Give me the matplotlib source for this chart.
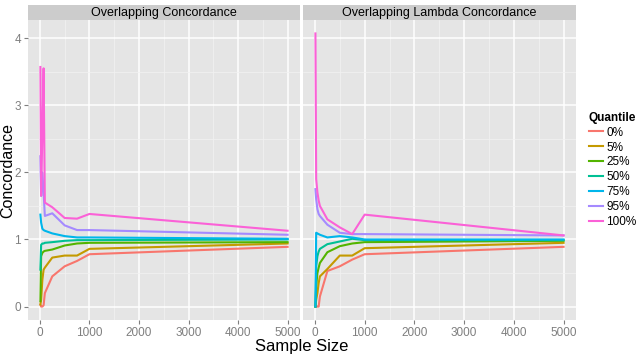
import matplotlib
matplotlib.use("Agg")
import matplotlib.pyplot as plt
from matplotlib.lines import Line2D

plt.rcParams['font.family'] = ['Liberation Sans', 'DejaVu Sans']

# sample sizes and quantile curves
sample_size = [10, 25, 50, 75, 100, 250, 500, 750, 1000, 5000]
quantiles = ["0%", "5%", "25%", "50%", "75%", "95%", "100%"]
colors = ["#F8766D", "#C49A00", "#53B400", "#00C094", "#00B6EB", "#A58AFF", "#FB61D7"]

# Overlapping Concordance
conc_0 = [0.03, 0.00, 0.00, 0.02, 0.20, 0.45, 0.60, 0.68, 0.78, 0.89]
conc_5 = [0.03, 0.10, 0.40, 0.55, 0.58, 0.73, 0.76, 0.76, 0.86, 0.94]
conc_25 = [0.08, 0.75, 0.80, 0.82, 0.83, 0.85, 0.91, 0.94, 0.95, 0.96]
conc_50 = [0.55, 0.92, 0.94, 0.94, 0.95, 0.96, 0.98, 0.99, 0.99, 1.00]
conc_75 = [1.37, 1.25, 1.16, 1.14, 1.13, 1.09, 1.05, 1.03, 1.03, 1.01]
conc_95 = [2.24, 1.65, 2.00, 1.70, 1.35, 1.39, 1.21, 1.14, 1.14, 1.07]
conc_100 = [3.57, 1.65, 2.60, 3.55, 1.55, 1.48, 1.32, 1.31, 1.38, 1.13]

# Overlapping Lambda Concordance
lam_0 = [0.00, 0.00, 0.00, 0.00, 0.15, 0.53, 0.60, 0.70, 0.78, 0.89]
lam_5 = [0.00, 0.10, 0.20, 0.35, 0.45, 0.56, 0.76, 0.76, 0.87, 0.95]
lam_25 = [0.00, 0.30, 0.50, 0.58, 0.65, 0.81, 0.90, 0.94, 0.96, 0.98]
lam_50 = [0.00, 0.60, 0.75, 0.82, 0.86, 0.93, 0.97, 1.01, 0.99, 0.99]
lam_75 = [0.00, 1.10, 1.09, 1.08, 1.07, 1.03, 1.05, 1.03, 1.00, 1.00]
lam_95 = [1.75, 1.60, 1.45, 1.38, 1.35, 1.22, 1.10, 1.08, 1.08, 1.06]
lam_100 = [4.07, 1.90, 1.70, 1.58, 1.50, 1.30, 1.18, 1.08, 1.37, 1.06]

panels = [
    ("Overlapping Concordance", [conc_0, conc_5, conc_25, conc_50, conc_75, conc_95, conc_100]),
    ("Overlapping Lambda Concordance", [lam_0, lam_5, lam_25, lam_50, lam_75, lam_95, lam_100]),
]

fig = plt.figure(figsize=(6.4, 3.58), dpi=100)
W, H = 640, 358
boxes = [(28, 300), (303, 576)]
top, bottom = 20, 320

for i, ((title, series), (x0, x1)) in enumerate(zip(panels, boxes)):
    ax = fig.add_axes([x0 / W, 1 - bottom / H, (x1 - x0) / W, (bottom - top) / H])
    ax.set_facecolor("#E5E5E5")
    for s in ax.spines.values():
        s.set_visible(False)
    ax.set_xlim(-240, 5250)
    ax.set_ylim(-0.2, 4.27)
    ax.set_xticks([0, 1000, 2000, 3000, 4000, 5000])
    ax.set_xticks([500, 1500, 2500, 3500, 4500], minor=True)
    ax.set_yticks([0, 1, 2, 3, 4])
    ax.set_yticks([0.5, 1.5, 2.5, 3.5], minor=True)
    ax.grid(which="major", color="white", lw=1.1)
    ax.grid(which="minor", color="#F2F2F2", lw=0.5)
    ax.set_axisbelow(True)
    ax.tick_params(which="major", length=3, color="#7F7F7F", labelcolor="#7F7F7F",
                   labelsize=8.5, pad=2)
    ax.tick_params(which="minor", length=0)
    if i > 0:
        ax.tick_params(axis="y", length=0, labelleft=False)
    for vals, c in zip(series, colors):
        ax.plot(sample_size, vals, color=c, lw=1.5, solid_joinstyle="round")
    # strip
    sax = fig.add_axes([x0 / W, 1 - top / H, (x1 - x0) / W, 15 / H])
    sax.set_facecolor("#CCCCCC")
    sax.set_xticks([])
    sax.set_yticks([])
    for s in sax.spines.values():
        s.set_visible(False)
    sax.text(0.5, 0.45, title, ha="center", va="center", fontsize=9, transform=sax.transAxes)

fig.text(302 / W, 1 - 346 / H, "Sample Size", ha="center", va="center", fontsize=12)
fig.text(8 / W, 1 - 170 / H, "Concordance", ha="center", va="center", fontsize=11.5, rotation=90)

handles = [Line2D([], [], color=c, lw=1.5) for c in colors]
leg = fig.legend(handles, quantiles, title="Quantile", loc="upper left",
                 bbox_to_anchor=(578 / W, 1 - 101 / H), frameon=False, fontsize=8.5,
                 handlelength=1.2, handletextpad=0.3, labelspacing=0.25,
                 title_fontproperties={"weight": "bold", "size": 8.5})
leg._legend_box.align = "left"

fig.savefig("out.png", dpi=100)
